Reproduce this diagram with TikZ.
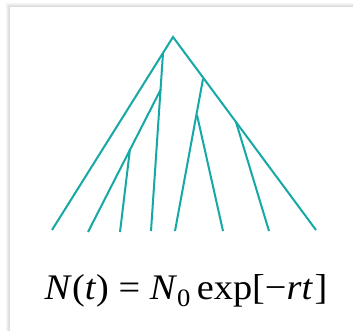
\documentclass[tikz,border=0pt]{standalone}
\usepackage{fontspec}
\setmainfont{Liberation Serif}
\definecolor{teal1}{RGB}{22,168,166}
\begin{document}
\begin{tikzpicture}[x=1pt,y=-1pt,
  branch/.style={draw=teal1,line width=2pt,line cap=butt}]
\useasboundingbox (0,0) rectangle (353,331);
\fill[white] (0,0) rectangle (353,331);
% soft shadow of the frame
\foreach \i/\o in {0/0.04,1/0.07,2/0.10,3/0.14}{
  \draw[black,opacity=\o,line width=1pt] (6.5+\i,331) -- (6.5+\i,3.5+\i) -- (353,3.5+\i);
}
\fill[white] (10,7) rectangle (353,331);
% tree points
\coordinate (root) at (173,37);
\coordinate (l1) at (52,230);
\coordinate (a) at (163,53);
\coordinate (a1) at (151,231);
\coordinate (b) at (161,89);
\coordinate (b1) at (88,232);
\coordinate (c) at (130,149);
\coordinate (c1) at (120,232);
\coordinate (r1) at (316,230);
\coordinate (d) at (203,79);
\coordinate (d1) at (175,231);
\coordinate (e) at (197,115);
\coordinate (e1) at (223,231);
\coordinate (f) at (236,122);
\coordinate (f1) at (269,231);
\draw[branch,line join=miter] (l1) -- (root) -- (r1);
\draw[branch] (a) -- (a1);
\draw[branch] (b) -- (b1);
\draw[branch] (c) -- (c1);
\draw[branch] (d) -- (d1);
\draw[branch] (e) -- (e1);
\draw[branch] (f) -- (f1);
\node[anchor=base,inner sep=0pt,font=\fontsize{36}{42}\selectfont] (eq) at (186,299)
  {\scalebox{1.065}[1]{\textit{N}(\textit{t}) = \textit{N}\raisebox{-0.22em}{\fontsize{25}{30}\selectfont 0}\,exp[−\textit{rt}\kern1.5pt]}};
\end{tikzpicture}
\end{document}
